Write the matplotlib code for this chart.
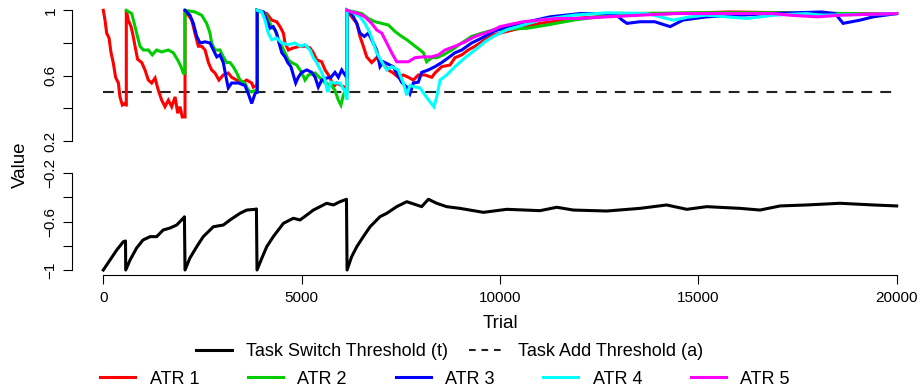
import matplotlib
matplotlib.use("Agg")
import matplotlib.pyplot as plt
from matplotlib.lines import Line2D

plt.rcParams['font.family'] = ['Liberation Sans', 'DejaVu Sans']

# ATR values per trial (resets appear as two points at the same trial)
atr1_x = [0, 43, 85, 145, 195, 250, 310, 380, 420, 480, 545, 575, 580,
          580, 630, 700, 755, 800, 865, 970, 1050, 1135, 1220, 1305, 1385, 1470, 1555, 1640, 1725, 1810, 1875, 1935, 1990, 2055, 2060,
          2060, 2230, 2310, 2395, 2480, 2565, 2650, 2730, 2815, 2915, 3025, 3150, 3235, 3365, 3490, 3615, 3740, 3780, 3865, 3880,
          3880, 4120, 4245, 4370, 4455, 4540, 4580, 4665, 4790, 4960, 5085, 5210, 5295, 5380, 5505, 5590, 5715, 5800, 5885, 5990, 6075, 6135, 6145,
          6145, 6260, 6390, 6470, 6555, 6640, 6765, 6890, 7020, 7185, 7310, 7435, 7565, 7690, 7815, 7940, 8110, 8280, 8360, 8530, 8740, 8865,
          9035, 9200, 9370, 9620, 9835, 10330, 11010, 11850, 13110, 14360, 15800, 17200, 17900, 18600, 20000]
atr1_y = [1.0, 0.94, 0.86, 0.83, 0.74, 0.68, 0.59, 0.555, 0.47, 0.42, 0.43, 0.42, 0.42,
          1.0, 0.94, 0.9, 0.84, 0.78, 0.7, 0.68, 0.635, 0.573, 0.555, 0.585, 0.512, 0.451, 0.41, 0.45, 0.41, 0.47, 0.37, 0.41, 0.347, 0.347, 0.347,
          1.0, 0.94, 0.86, 0.78, 0.78, 0.757, 0.68, 0.635, 0.616, 0.573, 0.604, 0.616, 0.59, 0.573, 0.555, 0.573, 0.555, 0.53, 0.54, 0.54,
          1.0, 0.98, 0.94, 0.93, 0.9, 0.86, 0.8, 0.757, 0.77, 0.78, 0.78, 0.77, 0.74, 0.696, 0.685, 0.635, 0.59, 0.53, 0.555, 0.54, 0.53, 0.52, 0.52,
          1.0, 0.96, 0.92, 0.84, 0.78, 0.715, 0.68, 0.71, 0.68, 0.635, 0.616, 0.59, 0.604, 0.59, 0.573, 0.604, 0.604, 0.59, 0.616, 0.655, 0.665, 0.71,
          0.727, 0.757, 0.78, 0.82, 0.85, 0.88, 0.92, 0.95, 0.97, 0.98, 0.99, 0.985, 0.97, 0.98, 0.98]

atr2_x = [580, 715, 780, 840, 925, 1010, 1135, 1235, 1345, 1470, 1640, 1765, 1875, 1960, 2015, 2055, 2060,
          2060, 2310, 2480, 2605, 2690, 2730, 2815, 2940, 3025, 3110, 3195, 3275, 3365, 3445, 3570, 3655, 3740, 3825, 3870, 3880,
          3880, 4075, 4160, 4245, 4330, 4410, 4500, 4580, 4665, 4750, 4875, 5000, 5085, 5170, 5340, 5465, 5590, 5760, 5840, 5925, 5990, 6050, 6095, 6135, 6145,
          6145, 6345, 6515, 6680, 6850, 7020, 7185, 7355, 7520, 7650, 7860, 7985, 8070, 8150, 8280, 8405, 8570, 8785, 9035, 9285, 9540, 9835,
          10680, 11185, 11850, 13110, 15000, 17000, 19000, 19460, 20000]
atr2_y = [1.0, 0.98, 0.92, 0.86, 0.78, 0.757, 0.757, 0.727, 0.757, 0.745, 0.757, 0.74, 0.696, 0.655, 0.616, 0.616, 0.616,
          1.0, 0.99, 0.97, 0.92, 0.86, 0.8, 0.757, 0.757, 0.715, 0.68, 0.68, 0.655, 0.616, 0.573, 0.555, 0.51, 0.5, 0.51, 0.5, 0.5,
          1.0, 0.98, 0.94, 0.9, 0.88, 0.82, 0.78, 0.74, 0.696, 0.68, 0.665, 0.62, 0.573, 0.604, 0.616, 0.585, 0.555, 0.54, 0.51, 0.45, 0.42, 0.48, 0.51, 0.5, 0.5,
          1.0, 0.99, 0.98, 0.95, 0.93, 0.92, 0.91, 0.87, 0.84, 0.82, 0.78, 0.757, 0.74, 0.685, 0.71, 0.71, 0.727, 0.757, 0.8, 0.84, 0.86, 0.88,
          0.89, 0.91, 0.94, 0.98, 0.985, 0.985, 0.98, 0.97, 0.98]

atr3_x = [2060, 2185, 2270, 2355, 2440, 2565, 2690, 2775, 2860, 2940, 3025, 3095, 3150, 3235, 3405, 3570, 3655, 3740, 3825, 3870, 3880,
          3880, 4035, 4120, 4200, 4285, 4370, 4430, 4500, 4580, 4650, 4730, 4790, 4850, 4915, 5000, 5130, 5255, 5340, 5420, 5505, 5630, 5740, 5840, 5925, 6010, 6095, 6135, 6145,
          6145, 6260, 6390, 6470, 6580, 6680, 6805, 6890, 6975, 7060, 7305, 7520, 7650, 7730, 7815, 7940, 8025, 8195, 8360, 8530, 8700, 8865, 9035, 9285, 9540, 9835,
          10170, 11260, 12015, 12900, 13080, 13200, 13530, 13900, 14290, 14610, 15210, 16050, 16885, 18100, 18450, 18650, 19080, 19410, 20000]
atr3_y = [1.0, 0.97, 0.92, 0.84, 0.8, 0.807, 0.8, 0.757, 0.715, 0.727, 0.68, 0.59, 0.525, 0.555, 0.555, 0.54, 0.49, 0.43, 0.49, 0.5, 0.5,
          1.0, 0.99, 0.94, 0.89, 0.9, 0.86, 0.8, 0.74, 0.715, 0.68, 0.655, 0.604, 0.555, 0.59, 0.62, 0.635, 0.62, 0.59, 0.53, 0.573, 0.585, 0.59, 0.62, 0.59, 0.635, 0.604, 0.59, 0.59,
          1.0, 0.98, 0.92, 0.86, 0.84, 0.86, 0.8, 0.757, 0.655, 0.685, 0.655, 0.56, 0.53, 0.49, 0.555, 0.56, 0.62, 0.635, 0.655, 0.68, 0.71, 0.74, 0.757, 0.8, 0.83, 0.87,
          0.9, 0.96, 0.98, 0.98, 0.94, 0.92, 0.93, 0.93, 0.9, 0.94, 0.96, 0.97, 0.98, 0.99, 0.98, 0.92, 0.94, 0.96, 0.98]

atr4_x = [3880, 3995, 4075, 4160, 4245, 4370, 4500, 4665, 4830, 4960, 5085, 5210, 5295, 5380, 5505, 5590, 5655, 5740, 5840, 5965, 6075, 6135, 6145,
          6145, 6260, 6470, 6595, 6725, 6805, 6890, 7020, 7145, 7270, 7435, 7480, 7565, 7650, 7730, 7860, 7985, 8110, 8235, 8335, 8405, 8490, 8655, 8865,
          9120, 9370, 9620, 9835, 10170, 11010, 11850, 12700, 13700, 14040, 14360, 14790, 15210, 16225, 16885, 17730, 18100, 20000]
atr4_y = [1.0, 0.99, 0.94, 0.86, 0.82, 0.83, 0.8, 0.79, 0.8, 0.78, 0.79, 0.757, 0.71, 0.68, 0.62, 0.573, 0.5, 0.56, 0.555, 0.555, 0.51, 0.46, 0.46,
          1.0, 0.99, 0.96, 0.92, 0.86, 0.8, 0.74, 0.685, 0.635, 0.655, 0.635, 0.604, 0.555, 0.48, 0.54, 0.53, 0.525, 0.48, 0.44, 0.41, 0.47, 0.573, 0.604, 0.655,
          0.71, 0.757, 0.807, 0.84, 0.88, 0.94, 0.97, 0.985, 0.98, 0.96, 0.94, 0.96, 0.97, 0.95, 0.97, 0.98, 0.97, 0.98]

atr5_x = [6145, 6260, 6430, 6595, 6765, 6890, 7020, 7145, 7270, 7395, 7480, 7690, 7860, 8070, 8280, 8445, 8615, 8865, 9120, 9370, 9620, 9835,
          10000, 10580, 11440, 12015, 12700, 13530, 14360, 16885, 17310, 17995, 18575, 20000]
atr5_y = [1.0, 0.99, 0.98, 0.96, 0.92, 0.88, 0.86, 0.8, 0.74, 0.685, 0.685, 0.685, 0.71, 0.715, 0.715, 0.727, 0.757, 0.78, 0.807, 0.84, 0.86, 0.88,
          0.9, 0.93, 0.95, 0.95, 0.96, 0.97, 0.98, 0.98, 0.97, 0.96, 0.97, 0.98]

# task switch threshold (t)
switch_x = [0, 170, 340, 505, 560, 565, 675, 840, 1000, 1180, 1345, 1510, 1680, 1850, 2015, 2045, 2060,
            2185, 2355, 2520, 2775, 3025, 3195, 3445, 3615, 3825, 3860, 3875,
            3995, 4120, 4285, 4540, 4790, 4960, 5130, 5295, 5465, 5630, 5800, 5965, 6130, 6145,
            6260, 6390, 6555, 6725, 6975, 7145, 7395, 7650, 7900, 8025, 8195, 8405, 8655, 8990, 9580,
            10170, 11010, 11430, 11850, 12690, 13530, 14200, 14710, 15210, 16050, 16555, 17060, 17730, 18570, 19410, 20000]
switch_y = [-1.0, -0.917, -0.834, -0.766, -0.76, -1.0, -0.917, -0.818, -0.752, -0.724, -0.724, -0.669, -0.653, -0.628, -0.572, -0.56, -1.0,
            -0.9, -0.807, -0.724, -0.642, -0.628, -0.586, -0.531, -0.504, -0.498, -0.495, -1.0,
            -0.903, -0.807, -0.724, -0.614, -0.572, -0.586, -0.545, -0.504, -0.476, -0.448, -0.462, -0.435, -0.415, -1.0,
            -0.89, -0.807, -0.724, -0.642, -0.559, -0.531, -0.476, -0.435, -0.462, -0.476, -0.415, -0.448, -0.476, -0.49, -0.523,
            -0.498, -0.509, -0.481, -0.504, -0.512, -0.49, -0.462, -0.498, -0.476, -0.49, -0.504, -0.47, -0.462, -0.448, -0.462, -0.47]

add_threshold = 0.5
trial_range = [0, 20000]

atr_series = [(atr1_x, atr1_y, "ATR 1", "#FF0000"),
              (atr2_x, atr2_y, "ATR 2", "#00CD00"),
              (atr3_x, atr3_y, "ATR 3", "#0000FF"),
              (atr4_x, atr4_y, "ATR 4", "#00FFFF"),
              (atr5_x, atr5_y, "ATR 5", "#FF00FF")]

fig = plt.figure(figsize=(9.21, 3.89), dpi=100)
ax_top = fig.add_axes([103.3 / 921, 1 - 141 / 389, 793.4 / 921, 130.7 / 389])
ax_bot = fig.add_axes([103.3 / 921, 1 - 270 / 389, 793.4 / 921, 96.7 / 389])

ax_top.plot(trial_range, [add_threshold, add_threshold], color="#222222", lw=1.5,
            dashes=(5.2, 3.9), clip_on=False)
for xs, ys, name, col in atr_series:
    ax_top.plot(xs, ys, color=col, lw=2.2, clip_on=False, solid_joinstyle="miter")

ax_bot.plot(switch_x, switch_y, color="black", lw=2.2, clip_on=False)

for ax in (ax_top, ax_bot):
    ax.set_xlim(0, 20000)
    ax.spines["top"].set_visible(False)
    ax.spines["right"].set_visible(False)
    ax.spines["left"].set_position(("outward", 22.5))
    ax.spines["left"].set_linewidth(0.8)
    ax.tick_params(axis="both", length=6.5, width=0.8, labelsize=11, pad=4)

ax_top.spines["bottom"].set_visible(False)
ax_top.set_xticks([])
ax_top.set_ylim(0.2, 1.0)
ax_top.spines["left"].set_bounds(0.2, 1.0)
ax_top.set_yticks([0.2, 0.4, 0.6, 0.8, 1.0], ["0.2", "", "0.6", "", "1"])

ax_bot.set_ylim(-1.0, -0.2)
ax_bot.spines["left"].set_bounds(-1.0, -0.2)
ax_bot.set_yticks([-1.0, -0.8, -0.6, -0.4, -0.2], ["\u22121", "", "\u22120.6", "", "\u22120.2"])
ax_bot.spines["bottom"].set_position(("outward", 3.6))
ax_bot.spines["bottom"].set_linewidth(0.8)
ax_bot.spines["bottom"].set_bounds(0, 20000)
ax_bot.set_xticks([0, 5000, 10000, 15000, 20000])
ax_bot.tick_params(axis="x", pad=5)

for ax in (ax_top, ax_bot):
    for lab in ax.get_yticklabels():
        lab.set_rotation(90)
        lab.set_va("center")

fig.text(500 / 921, 1 - 324 / 389, "Trial", ha="center", va="center", fontsize=13.5)
fig.text(20 / 921, 1 - 165 / 389, "Value", ha="center", va="center", rotation=90, fontsize=13.5)

# legends below the plot
h_switch = Line2D([], [], color="black", lw=2.2)
h_add = Line2D([], [], color="#222222", lw=1.5, dashes=(3.2, 2.8))
fig.legend([h_switch, h_add], ["Task Switch Threshold (t)", "Task Add Threshold (a)"],
           loc="center", bbox_to_anchor=(450 / 921, 1 - 352 / 389), ncol=2, frameon=False,
           fontsize=13, handlelength=1.94, handletextpad=0.8, columnspacing=1.16,
           borderpad=0, borderaxespad=0)
atr_handles = [Line2D([], [], color=col, lw=2.2) for _, _, _, col in atr_series]
fig.legend(atr_handles, [name for _, _, name, _ in atr_series],
           loc="center", bbox_to_anchor=(445 / 921, 1 - 379 / 389), ncol=5, frameon=False,
           fontsize=13, handlelength=1.94, handletextpad=0.8, columnspacing=2.7,
           borderpad=0, borderaxespad=0)

fig.savefig("out.png", dpi=100)
